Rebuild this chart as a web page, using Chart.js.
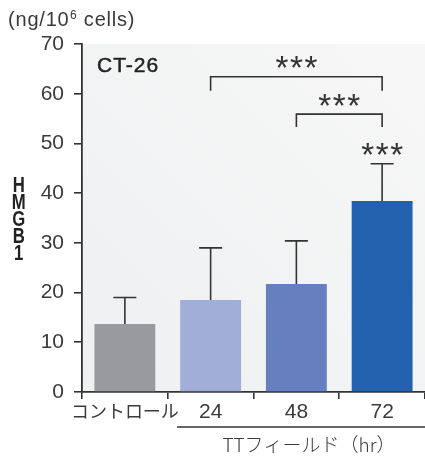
<!DOCTYPE html>
<html><head><meta charset="utf-8">
<script src="https://cdn.jsdelivr.net/npm/chart.js@4/dist/chart.umd.min.js"></script>
<style>html,body{margin:0;padding:0;background:#fff}#w{width:425px;height:456px}</style>
</head><body><div id="w"><canvas id="c" width="425" height="456"></canvas></div>
<script>
const categories = ['コントロール', '24', '48', '72'];
const meanValues = [13.7, 18.5, 21.7, 38.4];
const upperErrors = [19.0, 29.0, 30.4, 45.9];
const barColors = ['#999a9e', '#a1afd8', '#667fbf', '#2360ae'];
const yTicks = [0, 10, 20, 30, 40, 50, 60, 70];
// brackets: [fromIndex, toIndex, topValue, legValue]
const brackets = [[1, 3, 63.4, 60.6], [2, 3, 55.9, 53.3]];
const starLabel = '***';
const unitLabel = ['(ng/10', '6', ' cells)'];
const yTitle = ['H', 'M', 'G', 'B', '1'];
const groupLabel = 'TTフィールド（hr）';
const panelLabel = 'CT-26';

const LAT = '"Liberation Sans", "Noto Sans CJK JP", sans-serif';
const CJK = '"Noto Sans CJK JP", "Liberation Sans", sans-serif';
const INK = '#333';
const TXT = '#3a3a3a';

function drawCentered(ctx, text, cx, cy) {
  ctx.textBaseline = 'alphabetic';
  const m = ctx.measureText(text);
  const asc = m.actualBoundingBoxAscent, desc = m.actualBoundingBoxDescent;
  ctx.fillText(text, cx, cy + (asc - desc) / 2);
}

function drawStars(ctx, cx, cy) {
  ctx.save();
  ctx.font = '100px ' + LAT;
  let m = ctx.measureText('*');
  const size = 100 * 12 / (m.actualBoundingBoxAscent + m.actualBoundingBoxDescent);
  ctx.font = size.toFixed(1) + 'px ' + LAT;
  m = ctx.measureText('*');
  const a = m.width, pitch = 14.5;
  ctx.letterSpacing = (pitch - a) + 'px';
  ctx.textAlign = 'left';
  ctx.textBaseline = 'alphabetic';
  const asc = m.actualBoundingBoxAscent, desc = m.actualBoundingBoxDescent;
  ctx.fillText(starLabel, cx - pitch - a / 2, cy + (asc - desc) / 2);
  ctx.restore();
}

const deco = {
  id: 'deco',
  beforeDraw(chart) {
    const {ctx, chartArea: a} = chart;
    const g = ctx.createLinearGradient(a.left, a.bottom, a.right, a.top);
    g.addColorStop(0, '#eef0f1');
    g.addColorStop(1, '#f7f7f7');
    ctx.save(); ctx.fillStyle = g;
    ctx.fillRect(a.left, a.top, a.right - a.left, a.bottom - a.top);
    ctx.restore();
  },
  afterDatasetsDraw(chart) {
    const {ctx} = chart;
    const xs = chart.scales.x, ys = chart.scales.y;
    ctx.save();
    ctx.strokeStyle = INK; ctx.lineWidth = 1.6;
    meanValues.forEach((v, i) => {
      const x = xs.getPixelForValue(i);
      const y0 = ys.getPixelForValue(v), y1 = ys.getPixelForValue(upperErrors[i]);
      ctx.beginPath(); ctx.moveTo(x, y0); ctx.lineTo(x, y1);
      ctx.moveTo(x - 11.5, y1); ctx.lineTo(x + 11.5, y1); ctx.stroke();
    });
    ctx.fillStyle = INK;
    brackets.forEach(b => {
      const x0 = xs.getPixelForValue(b[0]), x1 = xs.getPixelForValue(b[1]);
      const yt = ys.getPixelForValue(b[2]), yl = ys.getPixelForValue(b[3]);
      ctx.beginPath(); ctx.moveTo(x0, yl); ctx.lineTo(x0, yt); ctx.lineTo(x1, yt); ctx.lineTo(x1, yl); ctx.stroke();
      drawStars(ctx, (x0 + x1) / 2, yt - 14.5);
    });
    drawStars(ctx, xs.getPixelForValue(3), ys.getPixelForValue(upperErrors[3]) - 14.5);
    ctx.restore();
  },
  afterDraw(chart) {
    const {ctx} = chart;
    ctx.save();
    ctx.fillStyle = TXT;
    ctx.textAlign = 'left'; ctx.textBaseline = 'alphabetic';
    // unit label
    ctx.letterSpacing = '0.8px';
    ctx.font = '20px ' + LAT;
    let x = 8;
    ctx.fillText(unitLabel[0], x, 26); x += ctx.measureText(unitLabel[0]).width;
    ctx.font = '12px ' + LAT;
    ctx.fillText(unitLabel[1], x + 0.5, 19); x += ctx.measureText(unitLabel[1]).width + 0.5;
    ctx.font = '20px ' + LAT;
    ctx.fillText(unitLabel[2], x, 26);
    // panel label
    ctx.fillStyle = '#222';
    ctx.letterSpacing = '1px';
    ctx.font = '21px ' + LAT;
    ctx.strokeStyle = '#222'; ctx.lineWidth = 0.5;
    ctx.textBaseline = 'middle';
    ctx.fillText(panelLabel, 97, 66);
    ctx.strokeText(panelLabel, 97, 66);
    ctx.letterSpacing = '0px';
    // vertical title (condensed bold letters)
    ctx.textAlign = 'center';
    ctx.fillStyle = '#222';
    ctx.font = 'bold 22px ' + LAT;
    yTitle.forEach((ch, i) => {
      ctx.save();
      ctx.translate(18.7, 0);
      ctx.scale(0.76, 1);
      drawCentered(ctx, ch, 0, 184 + i * 17.1);
      ctx.restore();
    });
    // group underline and label
    ctx.strokeStyle = INK; ctx.lineWidth = 1.6;
    ctx.beginPath(); ctx.moveTo(177, 427); ctx.lineTo(425, 427); ctx.stroke();
    ctx.fillStyle = TXT;
    ctx.font = '300 19px ' + CJK;
    drawCentered(ctx, groupLabel, 309, 444);
    ctx.restore();
  }
};

new Chart(document.getElementById('c'), {
  type: 'bar',
  data: {
    labels: categories,
    datasets: [{
      data: meanValues,
      backgroundColor: barColors,
      borderWidth: 0,
      barPercentage: 0.71,
      categoryPercentage: 1
    }]
  },
  options: {
    responsive: false,
    animation: false,
    layout: {padding: {top: 44, right: 0, left: 0, bottom: 0}},
    plugins: {legend: {display: false}, tooltip: {enabled: false}},
    scales: {
      x: {
        offset: true,
        grid: {offset: true, drawOnChartArea: false, tickLength: 7, color: INK, lineWidth: 1.6},
        border: {display: true, color: INK, width: 1.8},
        ticks: {
          color: TXT,
          font: c => c.index === 0 ? {family: CJK, size: 18, weight: 400} : {family: LAT, size: 21},
          padding: 1, maxRotation: 0, autoSkip: false
        },
        afterFit(s) { s.height = 64; }
      },
      y: {
        min: 0, max: 70,
        afterBuildTicks(s) { s.ticks = yTicks.map(v => ({value: v})); },
        grid: {drawOnChartArea: false, tickLength: 8, color: INK, lineWidth: 1.6},
        border: {display: true, color: INK, width: 1.8},
        ticks: {color: TXT, font: {family: LAT, size: 21}, padding: 10},
        afterFit(s) { s.width = 82; }
      }
    }
  },
  plugins: [deco]
});
</script></body></html>
